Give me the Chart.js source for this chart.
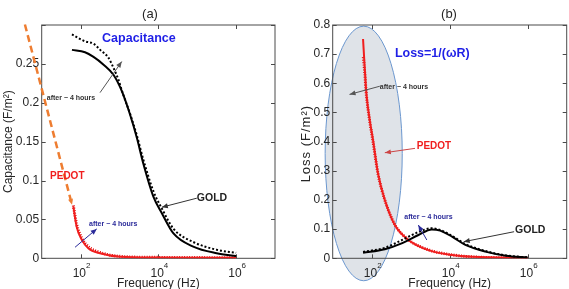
<!DOCTYPE html>
<html>
<head>
<meta charset="utf-8">
<script src="https://cdn.jsdelivr.net/npm/chart.js@4.4.1/dist/chart.umd.min.js"></script>
<style>
  body { margin: 0; background: #fff; }
  #wrap { position: relative; width: 569px; height: 289px; overflow: hidden; }
  canvas { position: absolute; top: 0; }
  #chartA { left: 0; }
  #chartB { left: 285px; }
</style>
</head>
<body>
<div id="wrap">
  <canvas id="chartA" width="285" height="289"></canvas>
  <canvas id="chartB" width="284" height="289"></canvas>
</div>
<script>
// (a) capacitance, F/m^2
const goldFreqA = [60, 130, 215, 390, 700, 1150, 1870, 2800, 4100, 7500, 12300, 24500, 79000, 316000, 1000000];
const goldCapA = [0.268, 0.265, 0.259, 0.249, 0.236, 0.215, 0.185, 0.155, 0.122, 0.079, 0.058, 0.032, 0.015, 0.0065, 0.003];
const goldAfterFreqA = [60, 130, 215, 320, 520, 700, 935, 1260, 1870, 2800, 4100, 7500, 12300, 24500, 79000, 316000, 1000000];
const goldAfterCapA = [0.288, 0.279, 0.276, 0.268, 0.258, 0.245, 0.230, 0.210, 0.186, 0.158, 0.127, 0.086, 0.064, 0.038, 0.021, 0.011, 0.007];
const pedotFreqA = [65, 79, 107, 158, 316, 1050, 10000, 100000, 1000000];
const pedotCapA = [0.067, 0.041, 0.024, 0.013, 0.0064, 0.002, 0.001, 0.0008, 0.0007];
const pedotAfterCapA = [0.068, 0.044, 0.026, 0.015, 0.0075, 0.0025, 0.0012, 0.0009, 0.0008];

// (b) loss = 1/(wR), F/m^2
const pedotFreqB = [60, 66, 73, 89, 108, 145, 217, 393, 870, 2850, 11500, 38000, 1000000];
const pedotLossB = [0.752, 0.657, 0.566, 0.474, 0.406, 0.291, 0.200, 0.114, 0.063, 0.028, 0.011, 0.005, 0.001];
const pedotAfterFreqB = [61, 66, 73, 89, 108, 145, 217, 393, 870, 2850, 11500, 38000, 1000000];
const pedotAfterLossB = [0.69, 0.64, 0.56, 0.47, 0.40, 0.29, 0.20, 0.115, 0.064, 0.029, 0.012, 0.005, 0.001];
const goldFreqB = [60, 217, 585, 1580, 3470, 5700, 11500, 25200, 82000, 275000, 1000000];
const goldLossB = [0.019, 0.031, 0.051, 0.080, 0.099, 0.095, 0.074, 0.046, 0.023, 0.009, 0.003];
const goldAfterLossB = [0.022, 0.036, 0.062, 0.090, 0.103, 0.097, 0.077, 0.049, 0.025, 0.010, 0.003];

// axes
const xTicks = [1e2, 1e4, 1e6];
const xTickExp = ['2', '4', '6'];

const FONT = '"Liberation Sans", Arial, Helvetica, sans-serif';
const BLUE_TXT = '#2b2b9a';
const RED = '#f01e1e';

function pts(xs, ys) {
  return xs.map((f, i) => ({ x: f, y: ys[i] }));
}

function arrow(ctx, x1, y1, x2, y2, color, width, dash) {
  ctx.save();
  ctx.strokeStyle = color;
  ctx.fillStyle = color;
  ctx.lineWidth = width || 1;
  if (dash) ctx.setLineDash(dash);
  ctx.beginPath();
  ctx.moveTo(x1, y1);
  ctx.lineTo(x2, y2);
  ctx.stroke();
  ctx.setLineDash([]);
  const a = Math.atan2(y2 - y1, x2 - x1), L = 6, W = 2.5;
  ctx.beginPath();
  ctx.moveTo(x2, y2);
  ctx.lineTo(x2 - L * Math.cos(a) + W * Math.sin(a), y2 - L * Math.sin(a) - W * Math.cos(a));
  ctx.lineTo(x2 - L * Math.cos(a) - W * Math.sin(a), y2 - L * Math.sin(a) + W * Math.cos(a));
  ctx.closePath();
  ctx.fill();
  ctx.restore();
}

// draws the matlab style box, ticks, labels and the hand made notes
const matlabLook = {
  id: 'matlabLook',
  beforeDraw(chart, args, opts) {
    if (!opts.ellipse) return;
    const { x, y } = chart.scales;
    const ctx = chart.ctx, e = opts.ellipse;
    const x1 = x.getPixelForValue(e.f[0]), x2 = x.getPixelForValue(e.f[1]);
    const y1 = y.getPixelForValue(e.v[1]), y2 = y.getPixelForValue(e.v[0]);
    ctx.save();
    ctx.beginPath();
    ctx.ellipse((x1 + x2) / 2, (y1 + y2) / 2, (x2 - x1) / 2, (y2 - y1) / 2, 0, 0, 2 * Math.PI);
    ctx.fillStyle = '#dfe3e8';
    ctx.fill();
    ctx.strokeStyle = '#6b97cf';
    ctx.lineWidth = 1;
    ctx.stroke();
    ctx.restore();
  },
  beforeDatasetsDraw(chart) {
    const { x, y } = chart.scales;
    const ctx = chart.ctx, a = chart.chartArea;
    ctx.save();
    ctx.strokeStyle = '#4a4a4a';
    ctx.lineWidth = 1;
    ctx.strokeRect(a.left, a.top, a.right - a.left, a.bottom - a.top);
    ctx.beginPath();
    xTicks.forEach(v => {
      const px = Math.round(x.getPixelForValue(v)) + 0.5;
      ctx.moveTo(px, a.bottom); ctx.lineTo(px, a.bottom - 4);
      ctx.moveTo(px, a.top); ctx.lineTo(px, a.top + 4);
    });
    y.ticks.forEach(t => {
      const py = Math.round(y.getPixelForValue(t.value)) + 0.5;
      ctx.moveTo(a.left, py); ctx.lineTo(a.left + 4, py);
      ctx.moveTo(a.right, py); ctx.lineTo(a.right - 4, py);
    });
    ctx.stroke();
    ctx.restore();
  },
  afterDraw(chart, args, opts) {
    const { x, y } = chart.scales;
    const ctx = chart.ctx, a = chart.chartArea;
    ctx.save();
    ctx.fillStyle = '#262626';
    ctx.textBaseline = 'alphabetic';
    // x tick labels 10^n
    xTicks.forEach((v, i) => {
      const px = x.getPixelForValue(v);
      ctx.font = '12px ' + FONT;
      const w1 = ctx.measureText('10').width;
      ctx.font = '8px ' + FONT;
      const w2 = ctx.measureText(xTickExp[i]).width;
      const sx = px - (w1 + w2) / 2 + 1;
      ctx.font = '12px ' + FONT;
      ctx.textAlign = 'left';
      ctx.fillText('10', sx, a.bottom + 18.5);
      ctx.font = '8px ' + FONT;
      ctx.fillText(xTickExp[i], sx + w1, a.bottom + 9.5);
    });
    // axis titles
    ctx.font = '12px ' + FONT;
    ctx.textAlign = 'center';
    ctx.fillText('Frequency (Hz)', (a.left + a.right) / 2, 286.5);
    ctx.font = '13px ' + FONT;
    ctx.fillText(opts.title, opts.titleX, 17.5);
    ctx.save();
    ctx.translate(opts.yTitleX, (a.top + a.bottom) / 2 + (opts.yTitleShift || 0));
    ctx.rotate(-Math.PI / 2);
    ctx.font = opts.yTitleFont;
    if (opts.yTitleSpacing) ctx.letterSpacing = opts.yTitleSpacing;
    ctx.textBaseline = 'middle';
    ctx.fillText(opts.yTitle, 0, 0);
    ctx.restore();
    // notes
    (opts.arrows || []).forEach(r => {
      arrow(ctx, x.getPixelForValue(r.from[0]), y.getPixelForValue(r.from[1]),
        x.getPixelForValue(r.to[0]), y.getPixelForValue(r.to[1]), r.color, r.width, r.dash);
    });
    (opts.texts || []).forEach(t => {
      ctx.font = t.font;
      ctx.fillStyle = t.color;
      ctx.textAlign = 'left';
      ctx.textBaseline = 'middle';
      ctx.fillText(t.text, x.getPixelForValue(t.f), y.getPixelForValue(t.v));
    });
    ctx.restore();
  }
};

function makeChart(id, datasets, yMax, yStep, padRight, yWidth, deco) {
  return new Chart(document.getElementById(id), {
    type: 'line',
    data: { datasets: datasets },
    plugins: [matlabLook],
    options: {
      responsive: false,
      animation: false,
      layout: { padding: { top: 25, right: padRight, left: 0, bottom: 0 } },
      elements: { point: { radius: 0 } },
      plugins: { legend: { display: false }, tooltip: { enabled: false }, matlabLook: deco },
      scales: {
        x: {
          type: 'logarithmic', min: 10, max: 1e7,
          grid: { display: false, drawTicks: false }, border: { display: false },
          ticks: { display: false },
          afterFit: s => { s.height = 30.7; }
        },
        y: {
          min: 0, max: yMax,
          grid: { display: false, drawTicks: false, tickLength: 0 }, border: { display: false },
          ticks: {
            stepSize: yStep, color: '#262626', padding: 2.5,
            font: { family: FONT, size: 12 },
            callback: v => (Math.abs(v - yMax) < 1e-9 && yMax < 0.5) ? '' : String(+v.toFixed(2))
          },
          afterFit: s => { s.width = yWidth; }
        }
      }
    }
  });
}

function line(xs, ys, color, width, dash) {
  return {
    data: pts(xs, ys), borderColor: color, borderWidth: width,
    borderDash: dash || [], cubicInterpolationMode: 'monotone', fill: false
  };
}

makeChart('chartA', [
  line(goldFreqA, goldCapA, '#000', 2),
  line(goldAfterFreqA, goldAfterCapA, '#000', 2, [2, 2]),
  line(pedotFreqA, pedotCapA, RED, 2),
  line(pedotFreqA, pedotAfterCapA, '#e00000', 3, [1, 1.5])
], 0.3, 0.05, 10, 41.7, {
  title: '(a)', titleX: 150, yTitle: 'Capacitance (F/m²)', yTitleX: 8.5, yTitleFont: '12px ' + FONT,
  texts: [
    { f: 357, v: 0.283, text: 'Capacitance', color: '#1f1fe6', font: 'bold 12.5px ' + FONT },
    { f: 13.5, v: 0.206, text: 'after ~ 4 hours', color: '#333', font: 'bold 7px ' + FONT },
    { f: 97500, v: 0.0773, text: 'GOLD', color: '#222', font: 'bold 10.5px ' + FONT },
    { f: 16.4, v: 0.105, text: 'PEDOT', color: RED, font: 'bold 10px ' + FONT },
    { f: 165, v: 0.0438, text: 'after ~ 4 hours', color: BLUE_TXT, font: 'bold 7px ' + FONT }
  ],
  arrows: [
    { from: [316, 0.213], to: [1146, 0.253], color: '#555' },
    { from: [97500, 0.0773], to: [12270, 0.0657], color: '#333' },
    { from: [72, 0.0142], to: [260, 0.0378], color: BLUE_TXT },
    { from: [3.7, 0.3007], to: [60.3, 0.0687], color: '#ee7d31', width: 2.5, dash: [7, 4] }
  ]
});

makeChart('chartB', [
  line(goldFreqB, goldLossB, '#000', 2),
  line(goldFreqB, goldAfterLossB, '#000', 2, [2, 2]),
  line(pedotFreqB, pedotLossB, RED, 2),
  line(pedotAfterFreqB, pedotAfterLossB, '#e00000', 3, [1, 1.5])
], 0.8, 0.1, 2.3, 47.7, {
  title: '(b)', titleX: 164, yTitle: 'Loss (F/m²)', yTitleX: 21, yTitleShift: 2,
  yTitleFont: '13px ' + FONT, yTitleSpacing: '1px',
  ellipse: { f: [6.4, 607], v: [-0.077, 0.796] },
  texts: [
    { f: 393, v: 0.703, text: 'Loss=1/(ωR)', color: '#1f1fe6', font: 'bold 12.5px ' + FONT },
    { f: 161, v: 0.586, text: 'after ~ 4 hours', color: '#333', font: 'bold 7px ' + FONT },
    { f: 1430, v: 0.385, text: 'PEDOT', color: RED, font: 'bold 10px ' + FONT },
    { f: 684, v: 0.1406, text: 'after ~ 4 hours', color: BLUE_TXT, font: 'bold 7px ' + FONT },
    { f: 475000, v: 0.097, text: 'GOLD', color: '#222', font: 'bold 10.5px ' + FONT }
  ],
  arrows: [
    { from: [161, 0.590], to: [27, 0.562], color: '#555' },
    { from: [1290, 0.377], to: [217, 0.362], color: '#c44' },
    { from: [2590, 0.0627], to: [1570, 0.114], color: BLUE_TXT },
    { from: [448000, 0.0912], to: [22900, 0.0569], color: '#333' }
  ]
});
</script>
</body>
</html>
